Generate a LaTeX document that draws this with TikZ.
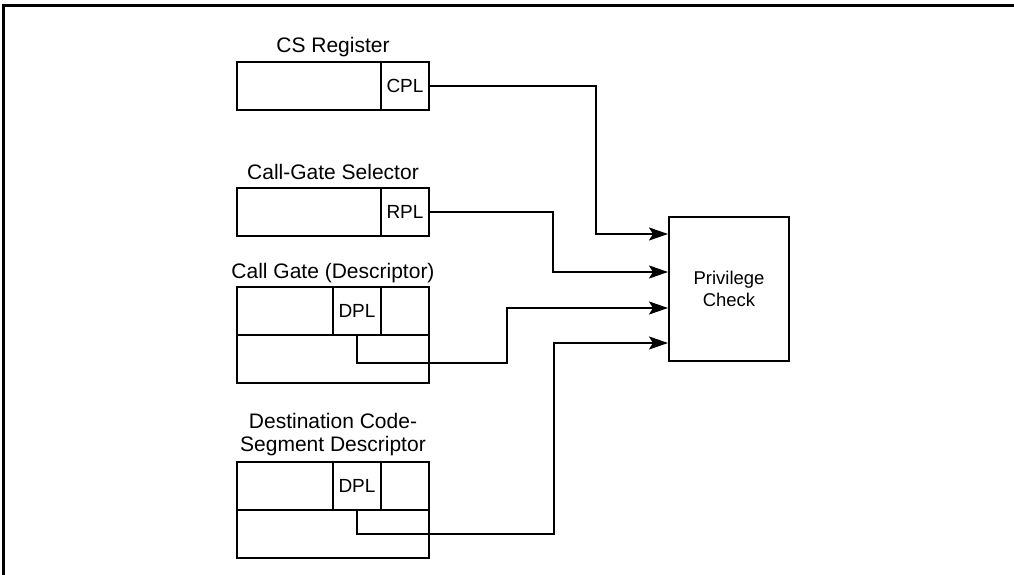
\documentclass[tikz,border=0pt]{standalone}
\usepackage{fontspec}
\setmainfont{Liberation Sans}
\usetikzlibrary{arrows.meta}
\begin{document}
\begin{tikzpicture}[x=1pt,y=-1pt,line width=2pt,
  title/.style={font=\fontsize{21}{23}\selectfont, inner sep=0pt},
  cellbox/.style={draw, line width=2pt, rectangle, inner sep=0pt, outer sep=0pt, font=\fontsize{19}{21}\selectfont, anchor=north west},
  conn/.style={-{Stealth[length=19pt,width=13pt,inset=4pt]}, line width=2pt}]
\useasboundingbox (0,0) rectangle (1014,575);
% frame
\draw[line width=2.2pt] (3.5,575) -- (3.5,5.5) -- (1014,5.5);

% CS Register
\node[title, anchor=base] (tcs) at (333,53) {CS Register};
\node[cellbox, minimum width=144, minimum height=48] (csl) at (237,62) {};
\node[cellbox, minimum width=48, minimum height=48] (cpl) at (381,62) {CPL};

% Call-Gate Selector
\node[title, anchor=base] (tsel) at (333,179) {Call-Gate Selector};
\node[cellbox, minimum width=144, minimum height=48] (sell) at (237,188) {};
\node[cellbox, minimum width=48, minimum height=48] (rpl) at (381,188) {RPL};

% Call Gate (Descriptor)
\node[title, anchor=base] (tcg) at (333,278) {Call Gate (Descriptor)};
\node[cellbox, minimum width=96, minimum height=48] (cgl) at (237,287) {};
\node[cellbox, minimum width=48, minimum height=48] (cgdpl) at (333,287) {DPL};
\node[cellbox, minimum width=48, minimum height=48] (cgr) at (381,287) {};
\node[cellbox, minimum width=192, minimum height=48] (cgb) at (237,335) {};

% Destination Code-Segment Descriptor
\node[title, anchor=south, align=center] (tds) at (333,457) {Destination Code-\\Segment Descriptor};
\node[cellbox, minimum width=96, minimum height=48] (dsl) at (237,462) {};
\node[cellbox, minimum width=48, minimum height=48] (dsdpl) at (333,462) {DPL};
\node[cellbox, minimum width=48, minimum height=48] (dsr) at (381,462) {};
\node[cellbox, minimum width=192, minimum height=48] (dsb) at (237,510) {};

% Privilege Check
\node[draw, line width=2pt, rectangle, minimum width=120, minimum height=144, align=center,
      font=\fontsize{18.5}{22}\selectfont] (pc) at (729,289) {Privilege\\Check};

% junctions
\coordinate (j1) at (596,234);
\coordinate (j2) at (553,272);
\coordinate (k3) at (507,363);
\coordinate (y3) at (0,308);
\coordinate (k4) at (554,534);
\coordinate (y4) at (0,343);

\draw[conn] (cpl.east) -| (j1) -- (pc.west |- j1);
\draw[conn] (rpl.east) -| (j2) -- (pc.west |- j2);
\draw[conn] (cgdpl.south) |- (k3) |- (pc.west |- y3);
\draw[conn] (dsdpl.south) |- (k4) |- (pc.west |- y4);
\end{tikzpicture}
\end{document}
